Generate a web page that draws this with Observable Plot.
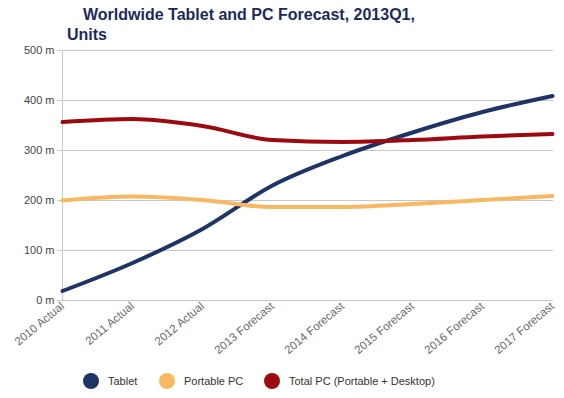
<!DOCTYPE html>
<html>
<head>
<meta charset="utf-8">
<script src="https://cdn.jsdelivr.net/npm/d3@7"></script>
<script src="https://cdn.jsdelivr.net/npm/@observablehq/plot@0.6"></script>
<style>
  html, body { margin: 0; padding: 0; background: #fff; }
  #wrap { position: relative; width: 564px; height: 398px; font-family: "Liberation Sans", Arial, Helvetica, sans-serif; }
  #title { position: absolute; left: 0; top: 5px; color: #1c2b5a; font-weight: bold; font-size: 16px; line-height: 20px; }
  #title .l1 { padding-left: 83px; }
  #title .l2 { padding-left: 67px; }
  #chart { position: absolute; left: 0; top: 45px; }
  #legend { position: absolute; left: 0; top: 372px; width: 564px; height: 20px; font-size: 11px; color: #333; }
  .item { position: absolute; top: 0; display: flex; align-items: center; height: 18px; }
  .dot { width: 16px; height: 16px; border-radius: 50%; margin-right: 9px; }
</style>
</head>
<body>
<div id="wrap">
  <div id="title"><div class="l1">Worldwide Tablet and PC Forecast, 2013Q1,</div><div class="l2">Units</div></div>
  <div id="chart"></div>
  <div id="legend"></div>
</div>
<script>
const categories = ["2010 Actual", "2011 Actual", "2012 Actual", "2013 Forecast", "2014 Forecast", "2015 Forecast", "2016 Forecast", "2017 Forecast"];
const seriesNames = ["Tablet", "Portable PC", "Total PC (Portable + Desktop)"];
const seriesColors = ["#1f3466", "#f8b862", "#9c0a10"];
const tablet = [19, 75, 143, 230, 289, 336, 377, 409];
const portablePC = [200, 208, 201, 187, 187, 193, 201, 209];
const totalPC = [357, 363, 349, 321, 317, 321, 328, 333];
const yTicks = [0, 100, 200, 300, 400, 500];
const legendX = [83, 159, 264];

const values = [tablet, portablePC, totalPC];
const data = [];
values.forEach((vals, i) => vals.forEach((v, j) => data.push({series: seriesNames[i], cat: categories[j], value: v})));

const chart = Plot.plot({
  width: 564,
  height: 315,
  marginTop: 5,
  marginBottom: 60,
  marginLeft: 60,
  marginRight: 11,
  style: {fontFamily: "'Liberation Sans', Arial, sans-serif", fontSize: "11px", color: "#444", background: "#fff"},
  x: {type: "point", domain: categories, padding: 0, label: null},
  y: {domain: [0, 500], label: null},
  color: {domain: seriesNames, range: seriesColors},
  marks: [
    Plot.gridY(yTicks, {stroke: "#c8c8c8", strokeOpacity: 1}),
    Plot.axisY(yTicks, {tickFormat: d => d + " m", tickSize: 3, tickPadding: 3, stroke: "#c8c8c8", fill: "#444", label: null}),
    Plot.axisX({tickRotate: -40, tickSize: 0, tickPadding: 4, fill: "#6a6a6a", fontSize: 11.5, label: null}),
    Plot.ruleX([categories[0]], {stroke: "#c8c8c8"}),
    Plot.ruleY([0], {stroke: "#c8c8c8"}),
    Plot.line(data, {x: "cat", y: "value", z: "series", stroke: "series", strokeWidth: 4, curve: "monotone-x"})
  ]
});
document.getElementById("chart").appendChild(chart);

const legend = document.getElementById("legend");
seriesNames.forEach((name, i) => {
  const item = document.createElement("div");
  item.className = "item";
  item.style.left = legendX[i] + "px";
  const dot = document.createElement("div");
  dot.className = "dot";
  dot.style.background = seriesColors[i];
  const label = document.createElement("span");
  label.textContent = name;
  item.appendChild(dot);
  item.appendChild(label);
  legend.appendChild(item);
});
</script>
</body>
</html>
